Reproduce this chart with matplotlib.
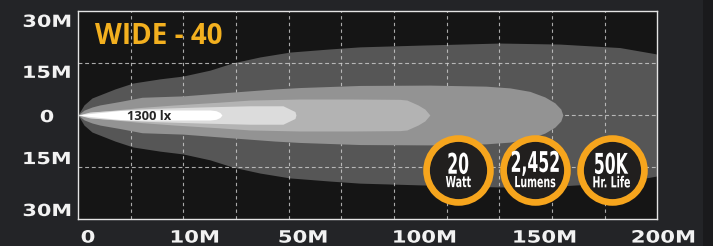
import matplotlib
matplotlib.use("Agg")
import matplotlib.pyplot as plt
import matplotlib.transforms as mtransforms
from matplotlib.textpath import TextPath
from matplotlib.patches import PathPatch, Rectangle
from matplotlib.font_manager import FontProperties

# Beam layers: distance along the beam (grid units) and half spread (metres)
outer_x = [0, 0.114, 0.266, 0.417, 0.702, 1.044, 1.556, 1.992, 2.505, 2.941, 3.454, 4.023,
           4.782, 5.351, 6.490, 8.008, 9.146, 10.285, 10.968, 11.423, 11.803]
outer_w = [0, 2.9, 4.9, 5.8, 7.5, 9.2, 10.4, 11.2, 12.9, 15.0, 16.7, 18.1,
           19.0, 19.6, 20.1, 20.7, 20.4, 19.4, 17.6, 15.0, 11.0]

mid_x = [0, 0.114, 0.266, 0.417, 0.797, 1.214, 1.992, 2.941, 3.738, 4.213, 5.351, 6.679,
         7.742, 8.197, 8.577, 8.861, 9.051, 9.165, 9.203]
mid_w = [0, 1.4, 2.3, 2.9, 3.9, 5.1, 5.5, 6.6, 7.5, 7.9, 8.5, 8.6,
         8.3, 7.8, 6.8, 5.2, 3.5, 1.7, 0]

light_x = [0, 0.266, 1.214, 1.841, 2.694, 3.264, 4.213, 5.161, 6.110, 6.243, 6.452, 6.584, 6.679]
light_w = [0, 0.8, 2.2, 2.9, 3.7, 4.3, 4.6, 4.6, 4.5, 4.3, 2.9, 1.7, 0]

bright_x = [0, 0.228, 0.797, 1.366, 2.315, 3.264, 3.890, 4.118, 4.137]
bright_w = [0, 0.86, 1.44, 1.87, 2.30, 2.65, 2.65, 1.0, 0]

core_x = [0, 0.228, 0.512, 0.797, 1.176, 2.505, 2.619, 2.694, 2.732]
core_w = [0, 0.43, 0.86, 1.29, 1.44, 1.44, 1.24, 0.72, 0]

layers = [
    (outer_x, outer_w, "#565656"),
    (mid_x, mid_w, "#939393"),
    (light_x, light_w, "#b3b3b3"),
    (bright_x, bright_w, "#dcdcdc"),
    (core_x, core_w, "#ffffff"),
]

x_labels = ["0", "10M", "50M", "100M", "150M", "200M"]
x_label_pos = [0.19, 2.22, 4.27, 6.58, 8.86, 11.11]
y_labels = ["30M", "15M", "0", "15M", "30M"]
y_label_pos = [27.1, 12.4, -0.3, -12.4, -27.3]

badge_big = ["20", "2,452", "50K"]
badge_small = ["Watt", "Lumens", "Hr. Life"]
badge_x = [7.22, 8.68, 10.13]
badge_y = -15.9

title = "WIDE - 40"
lux_label = "1300 lx"

fig = plt.figure(figsize=(7.13, 2.46), dpi=100)
fig.patch.set_facecolor("#232427")
fig.add_artist(Rectangle((703 / 713, 0), 10 / 713, 1, transform=fig.transFigure,
                         facecolor="#1a1a1c", edgecolor="none", zorder=0))

ax = fig.add_axes([78 / 713, 1 - 219.3 / 246, 579.5 / 713, 208.6 / 246])
ax.set_facecolor("#151515")
ax.set_xlim(0, 11)
ax.set_ylim(-30, 30)
ax.set_xticks([])
ax.set_yticks([])
for sp in ax.spines.values():
    sp.set_color("#e4e4e4")
    sp.set_linewidth(1.0)
    sp.set_zorder(10)

# beam
for i, (bx, bw, col) in enumerate(layers):
    neg = [-w for w in bw]
    ax.fill_between(bx, neg, bw, color=col, lw=0, zorder=1 + i * 2 if i else 1)

# dashed grid (sits on the outer layer, under the brighter ones)
for gx in range(1, 11):
    ax.axvline(gx, color="#d0d0d0", lw=0.8, ls=(0, (3, 3)), alpha=0.8, zorder=2)
for gy in [-15, 0, 15]:
    ax.axhline(gy, color="#d0d0d0", lw=0.8, ls=(0, (3.5, 2.5)), alpha=0.8, zorder=2)

ax.text(0.323, 22.7, title, color="#f3b01f", fontsize=20, fontweight="bold",
        family="Open Sans", ha="left", va="center", zorder=12)
ax.text(1.35, -0.4, lux_label, color="#262626", fontsize=9.3, fontweight="bold",
        family="Open Sans", ha="center", va="center", zorder=12)

# badges
ax.scatter(badge_x, [badge_y] * 3, s=46 ** 2, facecolor="#211f1e", edgecolor="#f6a51d",
           linewidths=4.8, zorder=13)


def squeezed(x, y, s, size, sx, trans, dy=0, color="white", z=20):
    fp = FontProperties(family="DejaVu Sans", weight="bold")
    tp = TextPath((0, 0), s, size=size, prop=fp)
    bb = tp.get_extents()
    t = (mtransforms.Affine2D()
         .translate(-(bb.x0 + bb.x1) / 2, -(bb.y0 + bb.y1) / 2)
         .scale(sx, 1)
         .translate(0, dy)
         .scale(1 / 72)
         + fig.dpi_scale_trans
         + mtransforms.ScaledTranslation(x, y, trans))
    fig.add_artist(PathPatch(tp, transform=t, facecolor=color, edgecolor="none", zorder=z))


for bx, big, small in zip(badge_x, badge_big, badge_small):
    squeezed(bx, badge_y, big, 20.5, 0.55, ax.transData, dy=5.0)
    squeezed(bx, badge_y, small, 11.0, 0.62, ax.transData, dy=-8.2)

xt = mtransforms.blended_transform_factory(ax.transData, fig.transFigure)
for lab, pos in zip(x_labels, x_label_pos):
    squeezed(pos, 1 - 236.4 / 246, lab, 12.2, 1.25, xt, color="#f2f2f2")

yt = mtransforms.blended_transform_factory(fig.transFigure, ax.transData)
for lab, pos in zip(y_labels, y_label_pos):
    squeezed(47 / 713, pos, lab, 12.0, 1.25, yt, color="#f2f2f2")

fig.savefig("out.png", dpi=100, facecolor=fig.get_facecolor())
